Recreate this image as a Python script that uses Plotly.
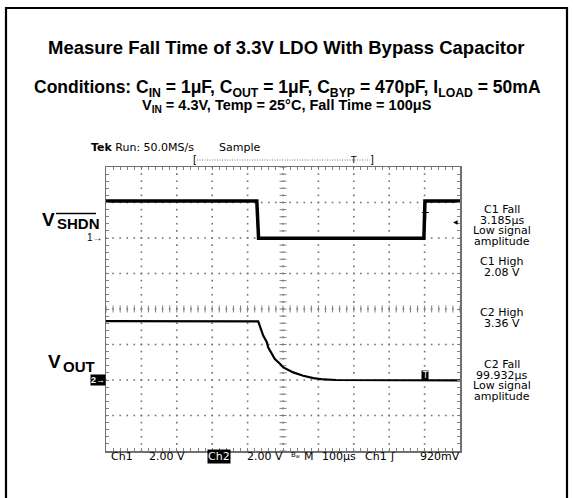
import plotly.graph_objects as go

# ---------------- data ----------------
# time axis: 100 us/div, 10 divisions
ch1_time_us = [0, 426, 431, 898, 901, 1000]
ch1_volts = [2.08, 2.08, -0.02, -0.02, 2.08, 2.08]

ch2_time_us = [0, 430, 444, 454, 458, 473, 477, 492, 501, 529, 557, 586, 615, 650, 1000]
ch2_volts = [3.32, 3.30, 2.50, 2.15, 1.84, 1.37, 1.18, 0.90, 0.71, 0.43, 0.24, 0.11, 0.03, 0.0, -0.02]

title_text = "Measure Fall Time of 3.3V LDO With Bypass Capacitor"
cond_line1 = ("Conditions: C<sub>IN</sub> = 1μF, C<sub>OUT</sub> = 1μF, "
              "C<sub>BYP</sub> = 470pF, I<sub>LOAD</sub> = 50mA")
cond_line2 = "V<sub>IN</sub> = 4.3V, Temp = 25°C, Fall Time = 100μS"

right_labels = [
    (209, "C1 Fall"), (220, "3.185µs"), (230.5, "Low signal"), (241, "amplitude"),
    (261, "C1 High"), (272, "2.08 V"),
    (312, "C2 High"), (323, "3.36 V"),
    (364, "C2 Fall"), (375, "99.932µs"), (385.5, "Low signal"), (396, "amplitude"),
]
bottom_labels = [
    (109, "Ch1"), (147, "2.00 V"), (245, "2.00 V"), (302, "M"),
    (320, "100µs"), (363, "Ch1"), (418, "920mV"),
]

# graticule: 10 x 8 divisions, 5 minor ticks per division
DIV_US = 100
N_XDIV, N_YDIV, N_SUB = 10, 8, 5

# ---------------- layout geometry ----------------
W, H = 573, 498
L, R, T, B = 106, 460, 167, 451


def px(x):
    return (x - L) / (R - L)


def py(y):
    return (B - y) / (B - T)


gcol = "#707070"
tcol = "#808080"

fig = go.Figure()

# graticule sub-division positions
xt = [i * DIV_US / N_SUB for i in range(N_XDIV * N_SUB + 1)]
yt = [-N_YDIV / 2 + i / N_SUB for i in range(N_YDIV * N_SUB + 1)]

# dotted graticule lines (one dot per sub-division)
gx, gy = [], []
for k in range(1, N_XDIV):
    gx += [k * DIV_US] * len(yt)
    gy += yt
for k in range(1, N_YDIV):
    gx += xt
    gy += [-N_YDIV / 2 + k] * len(xt)
fig.add_trace(go.Scatter(x=gx, y=gy, mode="markers", hoverinfo="skip",
                         marker=dict(symbol="square", size=1.6, color=gcol, line=dict(width=0))))

# centre crosshair tick marks
fig.add_trace(go.Scatter(x=xt, y=[0] * len(xt), mode="markers", hoverinfo="skip",
                         marker=dict(symbol="line-ns-open", size=5, color=tcol,
                                     line=dict(color=tcol, width=1))))
fig.add_trace(go.Scatter(x=[N_XDIV * DIV_US / 2] * len(yt), y=yt, mode="markers", hoverinfo="skip",
                         marker=dict(symbol="line-ew-open", size=5, color=tcol,
                                     line=dict(color=tcol, width=1))))

fig.add_trace(go.Scatter(x=ch1_time_us, y=ch1_volts, yaxis="y2", mode="lines",
                         line=dict(color="black", width=3.5), hoverinfo="skip"))
fig.add_trace(go.Scatter(x=ch2_time_us, y=ch2_volts, yaxis="y3", mode="lines",
                         line=dict(color="black", width=2.2), hoverinfo="skip"))

common = dict(showticklabels=False, zeroline=False, fixedrange=True, showgrid=False)

fig.update_layout(
    width=W, height=H,
    margin=dict(l=L, r=W - R, t=T, b=H - B, pad=0),
    paper_bgcolor="white", plot_bgcolor="white",
    showlegend=False,
    xaxis=dict(range=[0, N_XDIV * DIV_US], dtick=DIV_US, tick0=0, ticks="inside", ticklen=3, tickcolor=tcol,
               showline=True, linecolor="#707070", linewidth=1.5, mirror="ticks",
               minor=dict(dtick=DIV_US / N_SUB, ticks="inside", ticklen=3, tickcolor=tcol, showgrid=False),
               **common),
    yaxis=dict(range=[-N_YDIV / 2, N_YDIV / 2], dtick=1, tick0=0, ticks="inside", ticklen=3, tickcolor=tcol,
               showline=True, linecolor="#707070", linewidth=1.5, mirror="ticks",
               minor=dict(dtick=1 / N_SUB, ticks="inside", ticklen=3, tickcolor=tcol, showgrid=False),
               **common),
    # Ch1: 2 V/div, ground 2 div above centre; Ch2: 2 V/div, ground 2 div below centre
    yaxis2=dict(range=[-12, 4], overlaying="y", visible=False, fixedrange=True),
    yaxis3=dict(range=[-4, 12], overlaying="y", visible=False, fixedrange=True),
)

ann = []


def txt(x, y, text, size, family="DejaVu Sans", color="black", xanchor="center", bold=False, **kw):
    t = f"<b>{text}</b>" if bold else text
    ann.append(dict(x=px(x), y=py(y), xref="paper", yref="paper", text=t, showarrow=False,
                    xanchor=xanchor, yanchor="middle", font=dict(family=family, size=size, color=color),
                    **kw))


hv = "Liberation Sans"
txt(286.5, 47.5, title_text, 18.5, family=hv, bold=True)
txt(287, 88, cond_line1, 17.5, family=hv, bold=True)
txt(286.5, 106, cond_line2, 14.5, family=hv, bold=True)

# channel labels
txt(48.5, 219, "V", 19, family=hv, bold=True)
txt(55, 223, "SHDN", 15, family=hv, bold=True, xanchor="left")
txt(54, 361, "V", 19, family=hv, bold=True)
txt(61, 366, "OUT", 15, family=hv, bold=True, xanchor="left")
txt(105, 237, "1→", 10, family=hv, xanchor="right")
txt(106, 380, "<b>2→</b>", 9, family=hv, color="white", xanchor="right", bgcolor="black", borderpad=0)

# header
txt(89, 147, "<b>Tek</b> Run: 50.0MS/s", 11, xanchor="left")
txt(217, 147, "Sample", 11, xanchor="left")
txt(195, 160, "[", 10, xanchor="center")
txt(353, 160, "T", 9, xanchor="center")
txt(372, 160, "]", 10, xanchor="center")

for y, s in right_labels:
    txt(502, y, s, 11)
for x, s in bottom_labels:
    txt(x, 456, s, 11, xanchor="left")
txt(207, 456, "Ch2", 11, color="white", xanchor="left", bgcolor="black", borderpad=0)
txt(289, 455, "B<sub>w</sub>", 7, xanchor="left")
txt(388, 456, "ʃ", 11, xanchor="left")

# measurement cursors / markers
txt(424.5, 216.5, "T", 11)
txt(424.7, 375.5, "T", 8, color="white", bgcolor="black", borderpad=0)
txt(455, 221, "◀", 6)

fig.update_layout(annotations=ann)

extra_shapes = [
    # outer frame
    dict(type="rect", xref="paper", yref="paper", x0=px(6), x1=px(567), y0=py(505), y1=py(8),
         line=dict(color="black", width=2.2), fillcolor="rgba(0,0,0,0)", layer="above"),
    # SHDN overline
    dict(type="line", xref="paper", yref="paper", x0=px(56), x1=px(96), y0=py(213.5), y1=py(213.5),
         line=dict(color="black", width=1.6)),
    # record bracket dotted line
    dict(type="line", xref="paper", yref="paper", x0=px(197), x1=px(370), y0=py(160), y1=py(160),
         line=dict(color="#555", width=0.8, dash="1px,1.5px")),
]
for s in extra_shapes:
    fig.add_shape(**s)

fig.write_html("out.html", config={"displayModeBar": False, "staticPlot": True},
               post_script="document.body.style.margin='0';")
